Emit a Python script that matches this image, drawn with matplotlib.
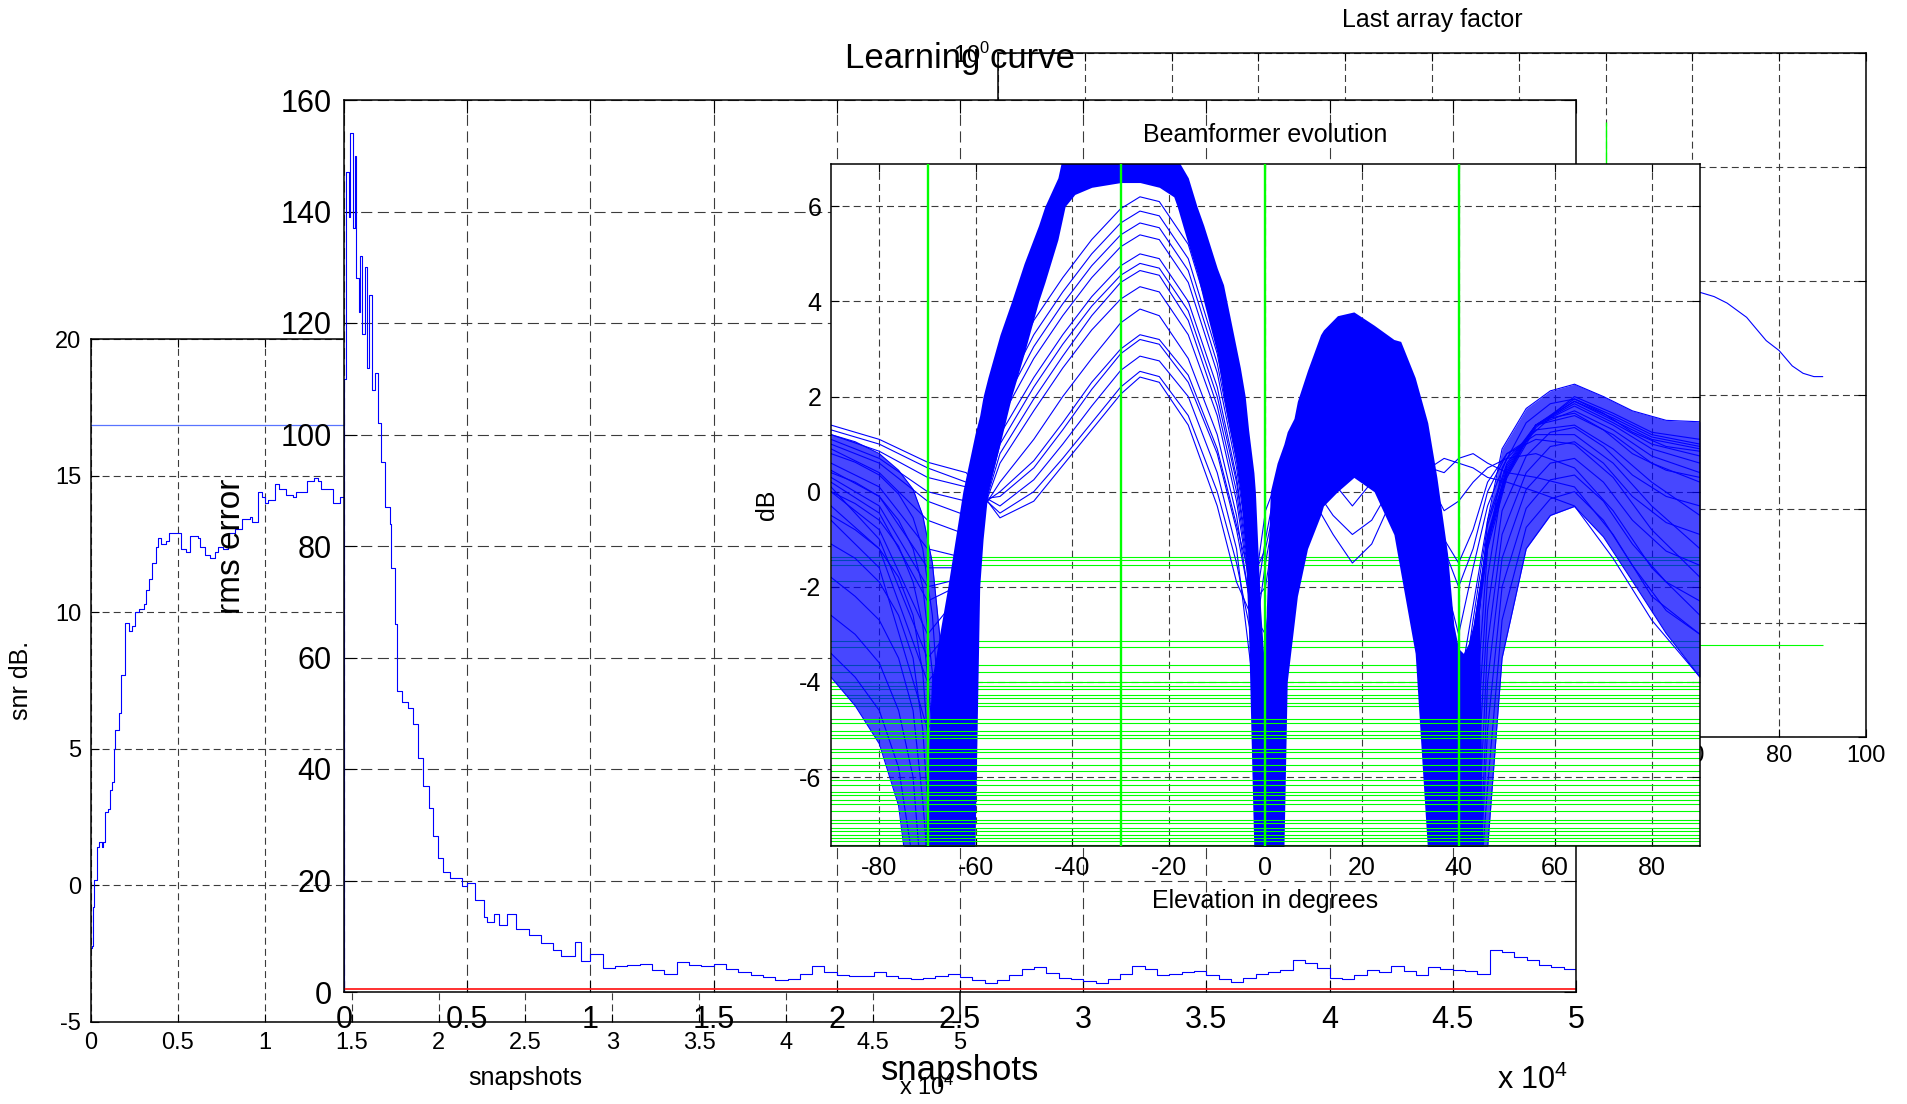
import numpy as np
import matplotlib
matplotlib.use("Agg")
import matplotlib.pyplot as plt
from matplotlib.ticker import FuncFormatter, NullLocator

plt.rcParams['font.family'] = ['Liberation Sans', 'DejaVu Sans']
plt.rcParams['mathtext.default'] = 'regular'
plt.rcParams['axes.unicode_minus'] = False
plt.rcParams['lines.scale_dashes'] = False

BLUE = '#0000ff'
GREEN = '#00ff00'

# ---------------- learning curve (snapshots in units of 1e4) ----------------
lc_snap = [0.000, 0.002, 0.010, 0.020, 0.025, 0.035, 0.045, 0.048, 0.060, 0.065,
           0.075, 0.085, 0.095, 0.100, 0.115, 0.125, 0.140, 0.150, 0.165, 0.185,
           0.190, 0.205, 0.215, 0.235, 0.260, 0.280, 0.300, 0.320, 0.345, 0.360,
           0.380, 0.400, 0.430, 0.480, 0.500, 0.530, 0.570, 0.580, 0.610, 0.630,
           0.660, 0.700, 0.750, 0.800, 0.850, 0.880, 0.936, 0.960,
           1.00, 1.05, 1.10, 1.15, 1.20, 1.25, 1.30, 1.35, 1.40, 1.45,
           1.50, 1.55, 1.60, 1.65, 1.70, 1.75, 1.80, 1.85, 1.90, 1.95,
           2.00, 2.05, 2.10, 2.15, 2.20, 2.25, 2.30, 2.35, 2.40, 2.45,
           2.50, 2.55, 2.60, 2.65, 2.70, 2.75, 2.80, 2.85, 2.90, 2.95,
           3.00, 3.05, 3.10, 3.15, 3.20, 3.25, 3.30, 3.35, 3.40, 3.45,
           3.50, 3.55, 3.60, 3.65, 3.70, 3.75, 3.80, 3.85, 3.90, 3.95,
           4.00, 4.05, 4.10, 4.15, 4.20, 4.25, 4.30, 4.35, 4.40, 4.45,
           4.50, 4.55, 4.60, 4.65, 4.70, 4.75, 4.80, 4.85, 4.90, 4.95, 5.00]
lc_rms = [0.0, 110, 147, 139, 154, 137, 150, 128, 122, 132,
          118, 130, 112, 125, 108, 111, 102, 95, 87, 84,
          76, 66, 54, 52, 51, 48, 42, 37, 33, 28,
          24, 21.5, 20.5, 19.0, 19.5, 16.5, 13.5, 12.5, 14.0, 12.0,
          14.0, 11.3, 10.2, 8.8, 7.6, 6.5, 9.0, 5.5,
          6.8, 4.3, 4.6, 4.9, 5.1, 4.0, 3.3, 5.4, 4.9, 4.6,
          5.0, 4.2, 3.5, 3.1, 2.7, 2.2, 2.3, 3.2, 4.7, 3.6,
          3.0, 2.9, 2.8, 3.6, 2.9, 2.5, 2.4, 2.6, 2.9, 3.2,
          2.7, 2.1, 1.7, 2.2, 3.0, 4.2, 4.5, 3.4, 2.5, 2.3,
          2.0, 1.7, 2.3, 3.2, 4.6, 4.2, 3.1, 3.2, 3.6, 3.8,
          3.0, 2.3, 1.8, 2.5, 3.3, 3.5, 3.9, 5.7, 5.2, 4.3,
          2.6, 2.3, 3.1, 4.0, 3.6, 4.6, 3.8, 3.0, 4.5, 4.1,
          4.0, 3.7, 3.3, 7.6, 7.2, 6.3, 5.8, 4.8, 4.5, 4.2, 3.8]
lc_floor = 0.5

# ---------------- snr evolution ----------------
snr_snap = [0.000, 0.008, 0.014, 0.020, 0.033, 0.047, 0.066, 0.070, 0.080, 0.100,
            0.110, 0.120, 0.130, 0.140, 0.160, 0.173, 0.194, 0.217, 0.237, 0.256,
            0.276, 0.305, 0.315, 0.334, 0.353, 0.373, 0.383, 0.402, 0.430, 0.450,
            0.500, 0.518, 0.548, 0.567, 0.615, 0.625, 0.654, 0.683, 0.713, 0.730,
            0.760, 0.790, 0.830, 0.868, 0.917, 0.926, 0.955, 0.961, 0.984, 1.000,
            1.020, 1.058, 1.080, 1.120, 1.160, 1.180, 1.220, 1.240, 1.285, 1.305,
            1.325, 1.350, 1.390, 1.430, 1.475, 1.520]
snr_db = [-2.3, -2.2, -0.8, 0.2, 1.4, 1.6, 1.4, 1.6, 2.7, 2.8,
          3.5, 3.8, 5.0, 5.7, 6.3, 7.7, 9.6, 9.3, 9.5, 10.0,
          10.1, 10.3, 10.8, 11.2, 11.8, 12.4, 12.7, 12.5, 12.6, 12.9,
          12.9, 12.3, 12.2, 12.8, 12.7, 12.4, 12.1, 12.0, 12.2, 12.4,
          12.3, 12.9, 13.05, 13.4, 13.5, 13.3, 13.3, 14.4, 14.2, 14.0,
          14.1, 14.7, 14.5, 14.3, 14.2, 14.4, 14.4, 14.8, 14.9, 14.8,
          14.5, 14.5, 14.0, 14.2, 13.95, 13.9]
snr_opt = 16.87

# ---------------- last array factor ----------------
af_deg = [58, 62, 65, 68, 72.5, 74, 77, 80, 83, 85.5, 88, 90]
af_mag = [8.3e-3, 7.9e-3, 7.3e-3, 6.4e-3, 4.8e-3, 4.1e-3, 3.0e-3, 2.45e-3,
          1.8e-3, 1.55e-3, 1.45e-3, 1.45e-3]
af_null_deg = [-70, -30, 0, 40]
af_null_top = 0.25
af_floor = 6.4e-6

# ---------------- beamformer evolution ----------------
bf_null_deg = [-70, -30, 0, 40]
bf_green_db = [-1.37, -1.44, -1.55, -1.88, -3.13, -3.27, -3.65, -3.80, -4.00, -4.08,
               -4.15, -4.27, -4.34, -4.45, -4.50, -4.78, -4.86, -5.04, -5.12, -5.17,
               -5.40, -5.47, -5.61, -5.75, -5.87, -6.07, -6.17, -6.31, -6.38, -6.48,
               -6.56, -6.72, -6.90, -6.97, -7.07, -7.14, -7.21, -7.28, -7.35, -7.42]

# dense band of converged patterns: main lobe with the nulls either side
main_deg = [-70.6, -69.2, -65.8, -62.7, -60.2, -59.2, -58.5, -57.5, -55.0, -52.6,
            -50.0, -47.0, -45.7, -43.0, -41.5, -39.5, -36.0, -30.0, -26.0, -22.0,
            -19.0, -18.3, -16.0, -14.2, -12.8, -10.0, -8.7, -8.0, -6.0, -5.2,
            -4.2, -3.5, -2.4, -2.1, -1.0, 0.0]
main_hi = [-7.6, -4.0, -2.0, 0.0, 1.2, 1.6, 2.0, 2.4, 3.3, 4.0,
           4.8, 5.6, 6.0, 6.6, 7.3, 7.3, 7.3, 7.3, 7.3, 7.3,
           7.3, 7.0, 6.6, 6.0, 5.6, 4.7, 4.35, 4.0, 3.0, 2.6,
           2.0, 1.3, 0.4, 0.0, -2.5, -4.0]
main_lo = [-7.6, -7.6, -7.6, -7.6, -7.6, -2.0, -1.0, 0.0, 1.0, 2.0,
           2.9, 4.0, 4.4, 5.3, 6.0, 6.25, 6.4, 6.5, 6.5, 6.4,
           6.2, 6.0, 5.2, 4.6, 4.0, 2.9, 2.0, 1.6, 0.6, 0.0,
           -1.2, -3.0, -7.6, -7.6, -7.6, -7.6]

# dense band: first sidelobe between the 0 and 40 degree nulls
sl2_deg = [-1.0, 0.0, 1.0, 2.4, 3.8, 4.5, 5.9, 6.6, 8.7, 11.4,
           12.0, 14.9, 18.3, 22.5, 26.6, 28.0, 31.0, 33.6, 35.5, 37.7,
           39.0, 40.0, 41.0, 42.0, 43.0, 44.2, 45.0]
sl2_hi = [-4.5, -3.0, 0.0, 0.6, 1.0, 1.26, 1.54, 1.9, 2.55, 3.3,
          3.4, 3.7, 3.78, 3.5, 3.2, 3.16, 2.4, 1.45, 0.3, -1.3,
          -2.8, -3.3, -3.4, -3.2, -2.8, -2.0, -7.6]
sl2_lo = [-7.6, -7.6, -7.6, -7.6, -7.6, -4.0, -2.8, -2.2, -1.2, -0.5,
          -0.3, 0.0, 0.3, 0.0, -0.9, -1.7, -3.4, -7.6, -7.6, -7.6,
          -7.6, -7.6, -7.6, -7.6, -7.6, -7.6, -7.6]

# converged patterns, left of the -70 degree null
left_deg = [-90, -85, -80, -76, -73, -71, -69, -67, -65]
left_db = [
    [1.20, 1.05, 0.80, 0.45, 0.05, -0.5, -1.5, -3.5, -9.0],
    [0.80, 0.62, 0.35, -0.05, -0.55, -1.2, -2.6, -5.5, -9.0],
    [0.40, 0.20, -0.10, -0.60, -1.20, -2.0, -3.8, -8.0, -9.0],
    [0.00, -0.25, -0.60, -1.15, -1.90, -2.8, -5.0, -9.0, -9.0],
    [-0.50, -0.80, -1.20, -1.80, -2.60, -3.8, -6.5, -9.0, -9.0],
    [-1.10, -1.40, -1.90, -2.60, -3.50, -5.0, -8.0, -9.0, -9.0],
    [-1.80, -2.20, -2.70, -3.50, -4.60, -6.5, -9.0, -9.0, -9.0],
    [-2.60, -3.00, -3.60, -4.60, -6.00, -8.5, -9.0, -9.0, -9.0],
    [-3.40, -3.90, -4.60, -5.80, -7.80, -9.0, -9.0, -9.0, -9.0],
    [-3.90, -4.50, -5.30, -6.60, -9.00, -9.0, -9.0, -9.0, -9.0],
]

# converged patterns, right of the 40 degree null
right_deg = [42, 44, 46, 49, 54, 59, 64, 70, 76, 83, 90]
right_db = [
    [-9, -3.0, -0.6, 0.9, 1.75, 2.12, 2.26, 2.0, 1.7, 1.5, 1.47],
    [-9, -4.0, -1.2, 0.5, 1.45, 1.85, 1.95, 1.65, 1.25, 0.95, 0.85],
    [-9, -5.0, -1.8, 0.1, 1.10, 1.55, 1.65, 1.30, 0.80, 0.45, 0.30],
    [-9, -6.0, -2.5, -0.4, 0.75, 1.25, 1.35, 0.95, 0.35, -0.10, -0.30],
    [-9, -7.5, -3.2, -0.9, 0.40, 0.95, 1.05, 0.60, -0.10, -0.65, -0.90],
    [-9, -9.0, -4.0, -1.4, 0.05, 0.60, 0.70, 0.20, -0.60, -1.25, -1.55],
    [-9, -9.0, -5.0, -2.0, -0.35, 0.25, 0.35, -0.20, -1.10, -1.90, -2.30],
    [-9, -9.0, -6.2, -2.7, -0.75, -0.15, 0.0, -0.60, -1.55, -2.50, -3.00],
    [-9, -9.0, -7.5, -3.5, -1.2, -0.5, -0.31, -0.95, -1.88, -2.98, -3.90],
]

# early (not yet converged) patterns, full elevation range
early_deg = [-90, -80, -70, -62, -55, -48, -42, -36, -30, -26,
             -22, -16, -10, -6, -3, 0, 3, 6, 10, 14,
             18, 22, 26, 30, 34, 37, 40, 43, 46, 50,
             56, 64, 72, 80, 90]
early_db = [
    [1.40, 1.10, 0.62, 0.40, -0.55, -0.20, 0.55, 1.30, 2.05, 2.41,
     2.30, 1.40, -0.30, -1.90, -2.6, -0.4, 0.4, 0.3, -0.2, -0.9,
     -1.5, -1.1, -0.2, 0.3, 0.5, 0.7, 0.6, 0.5, 0.3, 0.2,
     0.0, -0.3, -1.4, -2.7, -3.9],
    [1.30, 1.00, 0.50, 0.20, -0.45, 0.0, 0.7, 1.45, 2.2, 2.53,
     2.42, 1.6, 0.0, -1.5, -3.0, -1.0, 0.6, 0.7, 0.1, -0.5,
     -0.9, -0.6, 0.1, 0.6, 0.5, 0.4, 0.7, 0.8, 0.6, 0.4,
     0.3, 0.1, -0.9, -2.2, -3.0],
    [1.2, 0.85, 0.3, 0.1, -0.3, 0.25, 1.0, 1.8, 2.55, 2.85,
     2.75, 2.0, 0.4, -1.2, -3.7, -1.5, 0.2, 0.9, 0.8, 0.2,
     -0.3, 0.2, 0.8, 0.9, 0.2, -0.4, -0.2, 0.2, 0.5, 0.7,
     0.8, 0.5, -0.4, -1.6, -2.6],
    [1.1, 0.7, 0.0, -0.2, -0.1, 0.5, 1.3, 2.15, 2.9, 3.2,
     3.1, 2.3, 0.8, -0.8, -2.4, -2.0, 0.0, 1.2, 1.5, 1.0,
     0.6, 0.9, 1.3, 1.0, 0.0, -1.0, -1.5, -0.8, 0.2, 0.8,
     1.1, 1.0, 0.3, -0.8, -1.8],
    [1.0, 0.6, -0.2, -0.5, 0.0, 0.65, 1.45, 2.3, 3.0, 3.3,
     3.2, 2.45, 0.9, -0.7, -1.9, -1.2, 0.2, 1.3, 1.7, 1.4,
     1.0, 1.2, 1.5, 1.1, -0.1, -1.2, -2.0, -1.2, 0.0, 0.8,
     1.2, 1.2, 0.6, -0.3, -1.2],
    [0.9, 0.4, -0.6, -0.9, 0.2, 1.1, 2.0, 2.8, 3.55, 3.84,
     3.7, 2.8, 1.2, -0.5, -2.5, -3.0, -0.6, 1.0, 2.0, 2.1,
     1.8, 1.9, 1.8, 1.1, -0.4, -1.8, -3.0, -1.6, -0.3, 0.7,
     1.3, 1.4, 0.9, 0.2, -0.5],
    [0.6, 0.1, -1.2, -1.4, 0.6, 1.7, 2.6, 3.4, 4.05, 4.31,
     4.2, 3.3, 1.6, -0.2, -2.2, -4.0, -1.2, 0.8, 2.3, 2.8,
     2.9, 2.7, 2.3, 1.3, -0.5, -2.3, -4.2, -2.4, -0.6, 0.6,
     1.4, 1.6, 1.2, 0.6, 0.2],
    [0.45, -0.1, -1.6, -1.6, 0.8, 1.95, 2.85, 3.7, 4.4, 4.65,
     4.55, 3.6, 1.8, 0.0, -2.1, -4.5, -1.4, 0.7, 2.35, 3.0,
     3.1, 2.9, 2.45, 1.4, -0.55, -2.5, -4.8, -2.7, -0.7, 0.55,
     1.4, 1.7, 1.3, 0.75, 0.4],
    [0.3, -0.3, -2.0, -1.8, 1.0, 2.2, 3.1, 3.9, 4.55, 4.8,
     4.7, 3.8, 2.0, 0.2, -2.0, -5.0, -1.6, 0.6, 2.4, 3.1,
     3.3, 3.1, 2.6, 1.5, -0.6, -2.8, -5.5, -3.0, -0.9, 0.5,
     1.4, 1.8, 1.4, 0.9, 0.6],
    [0.2, -0.45, -2.3, -1.9, 1.2, 2.4, 3.3, 4.1, 4.75, 5.0,
     4.9, 4.0, 2.2, 0.3, -1.8, -5.5, -1.8, 0.5, 2.45, 3.2,
     3.4, 3.2, 2.7, 1.6, -0.55, -2.9, -6.0, -3.1, -0.95, 0.45,
     1.4, 1.85, 1.45, 1.0, 0.75],
    [0.0, -0.8, -3.0, -2.0, 1.5, 2.8, 3.7, 4.5, 5.15, 5.4,
     5.3, 4.4, 2.5, 0.5, -1.6, -6.0, -2.0, 0.4, 2.5, 3.3,
     3.5, 3.3, 2.8, 1.7, -0.5, -3.0, -6.5, -3.2, -1.0, 0.4,
     1.4, 1.9, 1.5, 1.1, 0.9],
    [0.1, -1.0, -3.5, -2.5, 1.7, 3.05, 3.95, 4.75, 5.4, 5.65,
     5.55, 4.65, 2.7, 0.65, -1.5, -6.5, -2.2, 0.3, 2.55, 3.35,
     3.55, 3.35, 2.85, 1.75, -0.5, -3.1, -7.0, -3.3, -1.05, 0.4,
     1.4, 1.9, 1.55, 1.15, 0.95],
    [-0.3, -1.2, -4.0, -3.0, 1.9, 3.3, 4.2, 5.0, 5.65, 5.9,
     5.8, 4.9, 2.9, 0.8, -1.4, -7.0, -2.4, 0.2, 2.6, 3.4,
     3.6, 3.4, 2.9, 1.8, -0.5, -3.2, -7.5, -3.4, -1.1, 0.35,
     1.4, 1.95, 1.6, 1.2, 1.0],
    [-0.6, -1.6, -5.0, -3.6, 2.1, 3.6, 4.5, 5.3, 5.95, 6.2,
     6.1, 5.2, 3.2, 1.0, -1.2, -8.0, -2.6, 0.1, 2.65, 3.45,
     3.65, 3.45, 2.95, 1.85, -0.5, -3.4, -8.0, -3.5, -1.2, 0.3,
     1.35, 2.0, 1.65, 1.25, 1.1],
]

snap_ticks = np.arange(0, 5.01, 0.5)
plain = FuncFormatter(lambda v, p: f'{v:g}')

fig = plt.figure(figsize=(19.08, 11.04), dpi=100)
W, H = 1908.0, 1104.0


def px_axes(left, top, right, bottom):
    return fig.add_axes([left / W, 1 - bottom / H, (right - left) / W, (bottom - top) / H])


def matlab_style(ax, fs, dash, ticklen, pad):
    ax.set_facecolor('white')
    ax.set_axisbelow(True)
    ax.grid(True, which='major', color='#3c3c3c', linestyle=(0, dash), linewidth=0.8)
    ax.tick_params(which='major', direction='in', top=True, right=True, length=ticklen,
                   width=0.8, labelsize=fs, pad=pad, colors='black')
    for sp in ax.spines.values():
        sp.set_linewidth(1.1)
        sp.set_color('black')


# --- last array factor (back) ---
ax_af = px_axes(998, 53, 1866, 737)
ax_af.semilogy(af_deg, af_mag, color=BLUE, lw=0.8)
ax_af.vlines(af_null_deg, 1e-6, af_null_top, color=GREEN, lw=1.0)
ax_af.hlines(af_floor, -90, 90, color=GREEN, lw=0.8)
ax_af.set_xlim(-100, 100)
ax_af.set_ylim(1e-6, 1)
ax_af.set_xticks(np.arange(-100, 101, 20))
ax_af.xaxis.set_major_formatter(plain)
ax_af.yaxis.set_minor_locator(NullLocator())
matlab_style(ax_af, 17, (5, 3), 6, 6)
ax_af.set_title('Last array factor', fontsize=18, pad=19)

# --- snr ---
ax_snr = px_axes(91, 339, 960, 1022)
ax_snr.axhline(snr_opt, color='#5874ff', lw=0.9)
ax_snr.plot(snr_snap, snr_db, color=BLUE, lw=0.8, drawstyle='steps-post')
ax_snr.set_xlim(0, 5)
ax_snr.set_ylim(-5, 20)
ax_snr.set_xticks(snap_ticks)
ax_snr.set_yticks(np.arange(-5, 21, 5))
ax_snr.xaxis.set_major_formatter(plain)
ax_snr.yaxis.set_major_formatter(plain)
matlab_style(ax_snr, 17, (5, 3), 6, 7)
ax_snr.set_xlabel('snapshots', fontsize=18, labelpad=9)
ax_snr.set_ylabel('snr dB.', fontsize=18, labelpad=16)
ax_snr.text(0.962, -0.095, r'x 10$^4$', transform=ax_snr.transAxes, fontsize=17,
            ha='center', va='center')

# --- learning curve ---
ax_lc = px_axes(344, 100, 1576, 992)
ax_lc.plot(lc_snap, lc_rms, color=BLUE, lw=0.8, drawstyle='steps-post')
ax_lc.axhline(lc_floor, color='#ff2020', lw=1.3)
ax_lc.set_xlim(0, 5)
ax_lc.set_ylim(0, 160)
ax_lc.set_xticks(snap_ticks)
ax_lc.set_yticks(np.arange(0, 161, 20))
ax_lc.xaxis.set_major_formatter(plain)
ax_lc.yaxis.set_major_formatter(plain)
matlab_style(ax_lc, 22, (8, 4), 9, 9)
ax_lc.set_title('Learning curve', fontsize=25, pad=23)
ax_lc.set_xlabel('snapshots', fontsize=25, labelpad=14)
ax_lc.set_ylabel('rms error', fontsize=24, labelpad=24)
ax_lc.text(0.965, -0.099, r'x 10$^4$', transform=ax_lc.transAxes, fontsize=22,
           ha='center', va='center')

# --- beamformer evolution (front) ---
ax_bf = px_axes(831, 164, 1700, 846)
for lvl in bf_green_db:
    ax_bf.axhline(lvl, color=GREEN, lw=0.8, zorder=1.2 if lvl > -4.6 else 2.4)
ax_bf.fill_between(main_deg, main_lo, main_hi, color=BLUE, lw=0, zorder=1.5)
ax_bf.fill_between(sl2_deg, sl2_lo, sl2_hi, color=BLUE, lw=0, zorder=1.5)
ax_bf.fill_between(left_deg, left_db[-1], left_db[0], color=BLUE, alpha=0.72, lw=0, zorder=1.4)
ax_bf.fill_between(right_deg, right_db[-1], right_db[0], color=BLUE, alpha=0.72, lw=0, zorder=1.4)
for row in left_db:
    ax_bf.plot(left_deg, row, color=BLUE, lw=0.8, zorder=2)
for row in right_db:
    ax_bf.plot(right_deg, row, color=BLUE, lw=0.8, zorder=2)
for row in early_db:
    ax_bf.plot(early_deg, row, color=BLUE, lw=0.8, zorder=2)
for d in bf_null_deg:
    ax_bf.axvline(d, color=GREEN, lw=1.7, zorder=2.6)
ax_bf.set_xlim(-90, 90)
ax_bf.set_ylim(-7.45, 6.89)
ax_bf.set_xticks(np.arange(-80, 81, 20))
ax_bf.set_yticks(np.arange(-6, 7, 2))
ax_bf.xaxis.set_major_formatter(plain)
ax_bf.yaxis.set_major_formatter(plain)
matlab_style(ax_bf, 18, (5, 3), 6, 7)
ax_bf.set_title('Beamformer evolution', fontsize=18, pad=16)
ax_bf.set_xlabel('Elevation in degrees', fontsize=18, labelpad=7)
ax_bf.set_ylabel('dB', fontsize=18, labelpad=14)

fig.savefig('out.png', dpi=100, facecolor='white')
